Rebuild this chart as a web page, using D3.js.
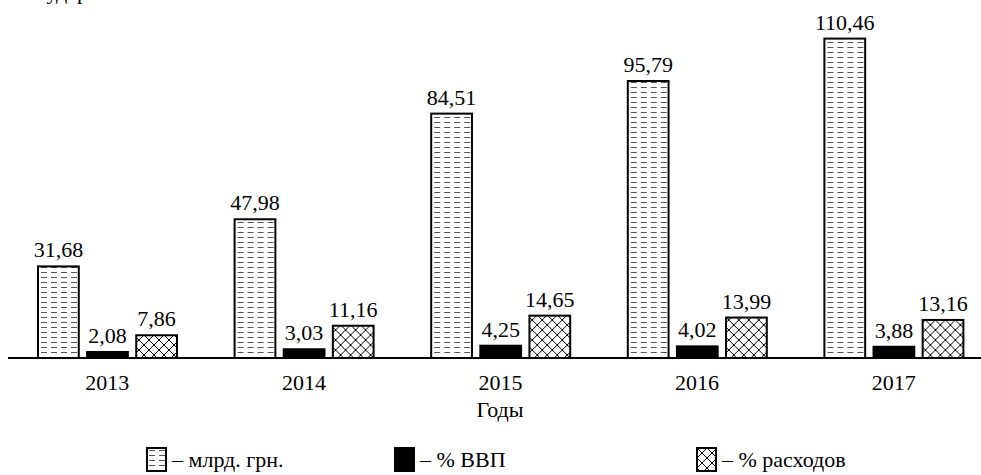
<!DOCTYPE html>
<html>
<head>
<meta charset="utf-8">
<script src="https://cdn.jsdelivr.net/npm/d3@7"></script>
<style>
  html, body { margin: 0; padding: 0; background: #fff; }
  svg { display: block; }
  text { font-family: "Liberation Serif", "DejaVu Serif", serif; fill: #000; }
</style>
</head>
<body>
<svg id="chart" width="981" height="475"></svg>
<script>
// Defence spending by year
const years = ["2013", "2014", "2015", "2016", "2017"];
const seriesKeys = ["uah", "gdp", "exp"];
const uahBn = [31.68, 47.98, 84.51, 95.79, 110.46];     // млрд. грн.
const gdpShare = [2.08, 3.03, 4.25, 4.02, 3.88];        // % ВВП
const expShare = [7.86, 11.16, 14.65, 13.99, 13.16];    // % расходов
const legendLabels = ["– млрд. грн.", "– % ВВП", "– % расходов"];
const axisTitle = "Годы";
const headTail = "государства";

const seriesValues = { uah: uahBn, gdp: gdpShare, exp: expShare };
const fills = { uah: "url(#dashFill)", gdp: "#000", exp: "url(#crossFill)" };

const svg = d3.select("#chart");
const baseY = 358;

// patterns
const defs = svg.append("defs");
const dash = defs.append("pattern")
  .attr("id", "dashFill").attr("patternUnits", "userSpaceOnUse")
  .attr("width", 10).attr("height", 5);
dash.append("rect").attr("width", 10).attr("height", 5).attr("fill", "#fff");
dash.append("line").attr("x1", 2).attr("x2", 8).attr("y1", 2.5).attr("y2", 2.5)
  .attr("stroke", "#555").attr("stroke-width", 1);

const cross = defs.append("pattern")
  .attr("id", "crossFill").attr("patternUnits", "userSpaceOnUse")
  .attr("width", 10).attr("height", 10);
cross.append("rect").attr("width", 10).attr("height", 10).attr("fill", "#fff");
cross.append("path").attr("d", "M0,0L10,10M10,0L0,10")
  .attr("stroke", "#000").attr("stroke-width", 1).attr("fill", "none");

// scales
const x = d3.scaleBand().domain(years).range([9, 992]).padding(0);
const xInner = d3.scaleBand().domain(seriesKeys).range([29, 168]).paddingInner(0.17).paddingOuter(0);
const y = d3.scaleLinear().domain([0, 120]).range([baseY, 11]);

const fmt = v => d3.format(".2f")(v).replace(".", ",");

// last line of the heading, running off the top edge
svg.append("text").attr("x", 17).attr("y", -1)
  .attr("font-size", 22).text(headTail);

// bars
const groups = svg.selectAll("g.year").data(years).join("g")
  .attr("class", "year")
  .attr("transform", d => `translate(${x(d)},0)`);

groups.each(function (yr, i) {
  const g = d3.select(this);
  seriesKeys.forEach(k => {
    const v = seriesValues[k][i];
    g.append("rect")
      .attr("x", xInner(k))
      .attr("y", y(v))
      .attr("width", xInner.bandwidth())
      .attr("height", baseY - y(v))
      .attr("fill", fills[k])
      .attr("stroke", "#000")
      .attr("stroke-width", 2);
    g.append("text")
      .attr("x", xInner(k) + xInner.bandwidth() / 2)
      .attr("y", y(v) - 9)
      .attr("text-anchor", "middle")
      .attr("font-size", 22)
      .text(fmt(v));
  });
});

// x axis
const axis = svg.append("g").attr("transform", `translate(0,${baseY})`)
  .call(d3.axisBottom(x).tickSize(0).tickPadding(16));
axis.select(".domain").remove();
axis.selectAll("text")
  .attr("font-family", "Liberation Serif, serif")
  .attr("font-size", 22).attr("fill", "#000");
svg.append("line").attr("x1", 8).attr("x2", 981)
  .attr("y1", baseY).attr("y2", baseY)
  .attr("stroke", "#000").attr("stroke-width", 2);

svg.append("text").attr("x", 500).attr("y", 417)
  .attr("text-anchor", "middle").attr("font-size", 22).text(axisTitle);

// legend
const legendX = [147, 395, 697];
const lg = svg.selectAll("g.legend").data(seriesKeys).join("g")
  .attr("class", "legend")
  .attr("transform", (d, i) => `translate(${legendX[i]},448)`);
lg.append("rect").attr("width", 19).attr("height", 23)
  .attr("fill", d => fills[d]).attr("stroke", "#000").attr("stroke-width", 2);
lg.append("text").attr("x", 25).attr("y", 19).attr("font-size", 22)
  .text((d, i) => legendLabels[i]);
</script>
</body>
</html>
